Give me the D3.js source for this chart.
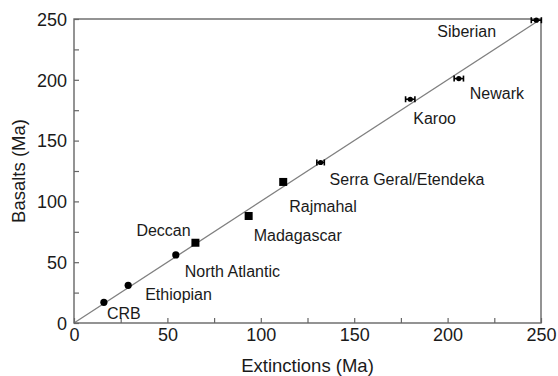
<!DOCTYPE html>
<html>
<head>
<meta charset="utf-8">
<script src="https://cdn.jsdelivr.net/npm/d3@7"></script>
<style>
  html, body { margin: 0; padding: 0; background: #fff; }
  svg { display: block; font-family: Arial, "Liberation Sans", sans-serif; }
</style>
</head>
<body>
<svg id="chart" width="558" height="376"></svg>
<script>
// Large igneous provinces: extinction age vs. basalt age (Ma)
const provinces   = ["CRB", "Ethiopian", "North Atlantic", "Deccan", "Madagascar", "Rajmahal",
                     "Serra Geral/Etendeka", "Karoo", "Newark", "Siberian"];
const extinctions = [16, 29, 54.5, 65, 93.5, 112, 132, 180, 206, 247.5];
const basalts     = [17, 31, 56, 66, 88, 116, 132, 184, 201, 249];
const extErr      = [0, 0, 0, 0, 0, 0, 2, 2.5, 2.5, 2.7];
const markers     = ["dot", "dot", "dot", "square", "square", "square", "bar", "bar", "bar", "bar"];
// label anchor offsets (px) from each point: [dx, dy] to text start / baseline
const labelOffsets = [[3, 17], [17, 15], [9, 22], [-59, -7], [5, 25], [6, 30], [9, 23], [3, 25], [11, 20], [-99, 17]];

const xTicks = [0, 50, 100, 150, 200, 250];
const yTicks = [0, 50, 100, 150, 200, 250];
const minorStep = 25;

const svg = d3.select("#chart");
const mLeft = 74, mRight = 541, mTop = 19, mBottom = 323;

const x = d3.scaleLinear().domain([0, 250]).range([mLeft, mRight]);
const y = d3.scaleLinear().domain([0, 250]).range([mBottom, mTop]);

const axisColor = "#666";
const textColor = "#1a1a1a";

// 1:1 reference line
svg.append("line")
  .attr("x1", x(0)).attr("y1", y(0))
  .attr("x2", x(250)).attr("y2", y(250))
  .attr("stroke", "#808080").attr("stroke-width", 1.3);

// frame
svg.append("rect")
  .attr("x", mLeft).attr("y", mTop)
  .attr("width", mRight - mLeft).attr("height", mBottom - mTop)
  .attr("fill", "none").attr("stroke", axisColor).attr("stroke-width", 1.4);

// inward ticks every 25 Ma, labels every 50
const allTicks = d3.range(0, 250 + 0.1, minorStep);
const xAxis = d3.axisBottom(x).tickValues(allTicks).tickSizeInner(-5).tickSizeOuter(0)
  .tickFormat(d => xTicks.includes(d) ? d : "").tickPadding(5);
const yAxis = d3.axisLeft(y).tickValues(allTicks).tickSizeInner(-5).tickSizeOuter(0)
  .tickFormat(d => yTicks.includes(d) ? d : "").tickPadding(7);

const gx = svg.append("g").attr("transform", `translate(0,${mBottom})`).call(xAxis);
const gy = svg.append("g").attr("transform", `translate(${mLeft},0)`).call(yAxis);
[gx, gy].forEach(g => {
  g.select(".domain").remove();
  g.selectAll(".tick line").attr("stroke", axisColor).attr("stroke-width", 1.2);
  g.selectAll(".tick text").attr("fill", textColor).attr("font-size", 18)
    .attr("font-family", "Arial, 'Liberation Sans', sans-serif");
});
gy.selectAll(".tick text").attr("dy", "0.35em");

// axis titles
svg.append("text")
  .attr("x", (mLeft + mRight) / 2).attr("y", 372)
  .attr("text-anchor", "middle").attr("font-size", 18.5)
  .attr("fill", textColor).text("Extinctions (Ma)");
svg.append("text")
  .attr("transform", `translate(25,${(mTop + mBottom) / 2}) rotate(-90)`)
  .attr("text-anchor", "middle").attr("font-size", 18.5)
  .attr("fill", textColor).text("Basalts (Ma)");

// data points
const data = provinces.map((name, i) => ({
  name, ext: extinctions[i], bas: basalts[i], err: extErr[i], marker: markers[i], off: labelOffsets[i]
}));

const pts = svg.append("g");
data.forEach(d => {
  const cx = x(d.ext), cy = y(d.bas);
  if (d.marker === "dot") {
    pts.append("circle").attr("cx", cx).attr("cy", cy).attr("r", 3.6).attr("fill", "#000");
  } else if (d.marker === "square") {
    pts.append("rect").attr("x", cx - 4).attr("y", cy - 4).attr("width", 8).attr("height", 8).attr("fill", "#000");
  } else {
    const x0 = x(d.ext - d.err), x1 = x(d.ext + d.err);
    pts.append("line").attr("x1", x0).attr("x2", x1).attr("y1", cy).attr("y2", cy)
      .attr("stroke", "#000").attr("stroke-width", 1.6);
    [x0, x1].forEach(xx => pts.append("line").attr("x1", xx).attr("x2", xx)
      .attr("y1", cy - 3).attr("y2", cy + 3).attr("stroke", "#000").attr("stroke-width", 1.6));
    pts.append("circle").attr("cx", cx).attr("cy", cy).attr("r", 2.6).attr("fill", "#000");
  }
});

// province labels
svg.append("g").selectAll("text").data(data).join("text")
  .attr("x", d => x(d.ext) + d.off[0])
  .attr("y", d => y(d.bas) + d.off[1])
  .attr("font-size", 16).attr("fill", textColor)
  .text(d => d.name);
</script>
</body>
</html>
